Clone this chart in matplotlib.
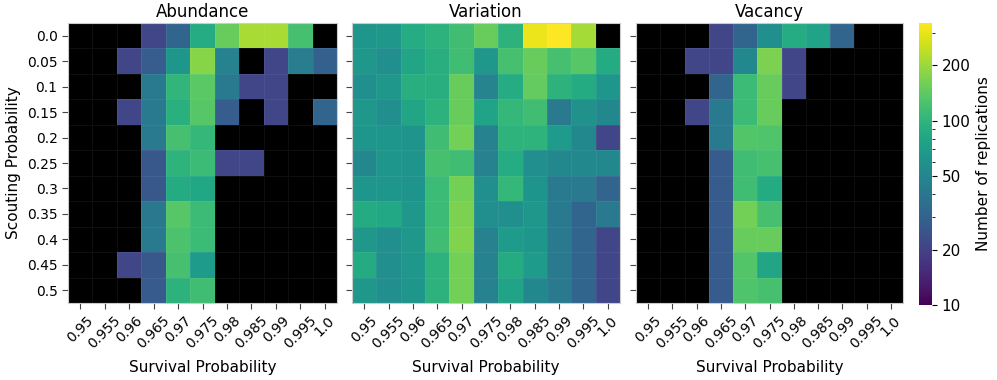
import numpy as np
import matplotlib
matplotlib.use("Agg")
import matplotlib.pyplot as plt
from matplotlib.colors import LogNorm
from matplotlib.ticker import FixedLocator, FixedFormatter, NullFormatter

nan = np.nan

survival = ['0.95', '0.955', '0.96', '0.965', '0.97', '0.975',
            '0.98', '0.985', '0.99', '0.995', '1.0']
scouting = ['0.0', '0.05', '0.1', '0.15', '0.2', '0.25',
            '0.3', '0.35', '0.4', '0.45', '0.5']

# rows: scouting probability, columns: survival probability
abundance = [
    [nan, nan, nan, 21, 31, 88, 150, 215, 215, 120, nan],
    [nan, nan, 21, 28, 64, 180, 48, nan, 21, 44, 29],
    [nan, nan, nan, 42, 100, 138, 42, 21, 21, nan, nan],
    [nan, nan, 21, 42, 94, 135, 28, nan, 21, nan, 31],
    [nan, nan, nan, 42, 120, 105, nan, nan, nan, nan, nan],
    [nan, nan, nan, 26, 98, 110, 21, 21, nan, nan, nan],
    [nan, nan, nan, 26, 86, 82, nan, nan, nan, nan, nan],
    [nan, nan, nan, 41, 135, 110, nan, nan, nan, nan, nan],
    [nan, nan, nan, 42, 125, 110, nan, nan, nan, nan, nan],
    [nan, nan, 21, 26, 120, 68, nan, nan, nan, nan, nan],
    [nan, nan, nan, 27, 96, 115, nan, nan, nan, nan, nan],
]

variation = [
    [64, 66, 88, 96, 115, 150, 96, 305, 340, 210, nan],
    [66, 57, 79, 93, 115, 66, 120, 150, 120, 135, 86],
    [57, 66, 93, 93, 150, 49, 88, 145, 96, 86, 64],
    [66, 57, 79, 96, 150, 77, 104, 115, 42, 59, 52],
    [64, 64, 62, 115, 160, 48, 98, 98, 68, 52, 21],
    [52, 64, 62, 120, 115, 48, 88, 57, 52, 52, 52],
    [64, 64, 62, 110, 160, 57, 104, 62, 42, 42, 31],
    [86, 83, 66, 110, 170, 57, 57, 66, 42, 31, 42],
    [66, 57, 66, 115, 175, 48, 68, 64, 42, 31, 21],
    [86, 57, 66, 96, 160, 48, 86, 68, 42, 31, 21],
    [66, 57, 64, 96, 160, 48, 77, 52, 42, 31, 21],
]

vacancy = [
    [nan, nan, nan, 21, 31, 57, 88, 77, 31, nan, nan],
    [nan, nan, 21, 21, 52, 170, 21, nan, nan, nan, nan],
    [nan, nan, nan, 31, 110, 150, 21, nan, nan, nan, nan],
    [nan, nan, 21, 42, 110, 150, nan, nan, nan, nan, nan],
    [nan, nan, nan, 42, 130, 128, nan, nan, nan, nan, nan],
    [nan, nan, nan, 27, 115, 120, nan, nan, nan, nan, nan],
    [nan, nan, nan, 27, 115, 86, nan, nan, nan, nan, nan],
    [nan, nan, nan, 27, 160, 120, nan, nan, nan, nan, nan],
    [nan, nan, nan, 27, 150, 150, nan, nan, nan, nan, nan],
    [nan, nan, nan, 27, 130, 79, nan, nan, nan, nan, nan],
    [nan, nan, nan, 27, 128, 120, nan, nan, nan, nan, nan],
]

titles = ['Abundance', 'Variation', 'Vacancy']
panels = [abundance, variation, vacancy]

W, H = 997, 380
fig = plt.figure(figsize=(W / 100, H / 100), dpi=100)

cmap = plt.get_cmap('viridis').with_extremes(bad='black')
norm = LogNorm(vmin=10, vmax=340)

lefts = [68, 352, 636]
widths = [269, 268, 267]
top, bottom = 23, 303

mesh = None
for i, (name, data) in enumerate(zip(titles, panels)):
    ax = fig.add_axes([lefts[i] / W, (H - bottom) / H,
                       widths[i] / W, (bottom - top) / H])
    arr = np.ma.masked_invalid(np.array(data, dtype=float))
    mesh = ax.pcolormesh(arr, cmap=cmap, norm=norm,
                         edgecolors=(1, 1, 1, 0.06), linewidth=0.5)
    ax.set_xlim(0, len(survival))
    ax.set_ylim(len(scouting), 0)
    ax.set_xticks(np.arange(len(survival)) + 0.5)
    ax.set_xticklabels(survival, rotation=45, fontsize=10)
    ax.set_yticks(np.arange(len(scouting)) + 0.5)
    if i == 0:
        ax.set_yticklabels(scouting, fontsize=10)
        ax.set_ylabel('Scouting Probability', fontsize=11)
    else:
        ax.set_yticklabels([])
    ax.set_xlabel('Survival Probability', fontsize=11, labelpad=6)
    ax.set_title(name, fontsize=12, pad=4)
    ax.tick_params(length=4, color='#444444')
    for s in ax.spines.values():
        s.set_color('#cccccc')
        s.set_linewidth(0.8)

cax = fig.add_axes([919 / W, (H - 305) / H, 13 / W, 282 / H])
cb = fig.colorbar(mesh, cax=cax)
cb.outline.set_visible(False)
cb.ax.yaxis.set_major_locator(FixedLocator([10, 20, 50, 100, 200]))
cb.ax.yaxis.set_major_formatter(FixedFormatter(['10', '20', '50', '100', '200']))
cb.ax.yaxis.set_minor_formatter(NullFormatter())
cb.ax.tick_params(labelsize=11)
cb.set_label('Number of replications', fontsize=11)

fig.savefig('out.png', dpi=100)
